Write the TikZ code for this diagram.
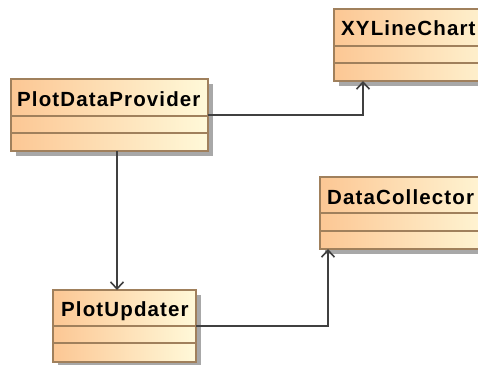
\documentclass[tikz,border=0pt]{standalone}
\usepackage{fontspec}
\setmainfont{Liberation Sans}
\newfontfamily\tfont[LetterSpace=5.5]{Liberation Sans}
\usetikzlibrary{arrows.meta,calc,shadows}
\definecolor{bord}{HTML}{A0805C}
\definecolor{orL}{HTML}{FCC794}
\definecolor{yeR}{HTML}{FFF9D9}
\definecolor{lineC}{HTML}{404040}
\definecolor{shadC}{HTML}{A8A8A8}
\begin{document}
\begin{tikzpicture}[x=1bp,y=-1bp,
  cls/.style={rectangle, draw=bord, line width=1.4bp, left color=orL, right color=yeR,
    inner sep=0pt, outer sep=0pt, anchor=north west,
    drop shadow={shadow xshift=5bp, shadow yshift=-5bp, fill=shadC, opacity=1}},
  sep/.style={draw=bord, line width=1.4bp},
  ttl/.style={anchor=base west, inner sep=0pt, font=\tfont\bfseries\fontsize{20.5bp}{22bp}\selectfont},
  con/.style={draw=lineC, line width=1.6bp, -{Straight Barb[length=7bp,width=13bp,line width=1.6bp]}}]
\useasboundingbox (0,0) rectangle (478,364);
\begin{scope}
\clip (0,0) rectangle (478,364);
% boxes
\node[cls, minimum width=197bp, minimum height=72bp] (pdp) at (11,79) {};
\node[cls, minimum width=180bp, minimum height=72bp] (xyl) at (334,9) {};
\node[cls, minimum width=180bp, minimum height=72bp] (dc) at (320,177) {};
\node[cls, minimum width=143bp, minimum height=72bp] (pu) at (53,290) {};
% separators
\foreach \b/\a/\c in {pdp/37/54, xyl/37/54, dc/36/54, pu/36/53}{
  \draw[sep] ($(\b.north west)+(0,\a)$) -- ($(\b.north east)+(0,\a)$);
  \draw[sep] ($(\b.north west)+(0,\c)$) -- ($(\b.north east)+(0,\c)$);
}
% titles
\node[ttl] (tpdp) at ($(pdp.north west)+(6,27)$) {PlotDataProvider};
\node[ttl] (txyl) at ($(xyl.north west)+(7,26)$) {XYLineChart};
\node[ttl] (tdc) at ($(dc.north west)+(7,27)$) {DataCollector};
\node[ttl] (tpu) at ($(pu.north west)+(8,26)$) {PlotUpdater};
% connector end points
\coordinate (xa) at ($(xyl.south west)+(29,0)$);
\coordinate (da) at ($(dc.south west)+(8,0)$);
\coordinate (ps) at ($(pdp.south west)+(106,0)$);
\coordinate (pn) at ($(pu.north west)+(64,0)$);
% connectors
\draw[con] (pdp.east) -| (xa);
\draw[con] (ps) -- (pn);
\draw[con] (pu.east) -| (da);
\end{scope}
\end{tikzpicture}
\end{document}
